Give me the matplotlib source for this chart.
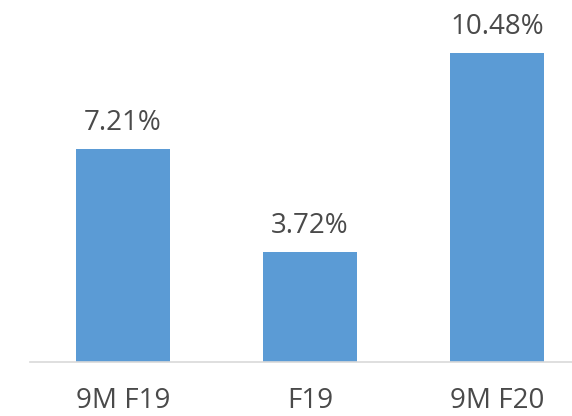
import matplotlib
matplotlib.use("Agg")
import matplotlib.pyplot as plt

categories = ["9M F19", "F19", "9M F20"]
values = [7.21, 3.72, 10.48]
labels = ["7.21%", "3.72%", "10.48%"]

plt.rcParams['font.family'] = ['Open Sans', 'DejaVu Sans']

fig = plt.figure(figsize=(5.72, 4.16), dpi=100)
W, H = 572, 416
left, right = 29.5, 590.5
base = 362
ax = fig.add_axes([left / W, (H - base) / H, (right - left) / W, base / H])
x = range(len(categories))
ax.bar(x, values, width=0.5, color="#5B9BD5", zorder=2)
ax.set_xlim(-0.5, 2.5)
ax.set_ylim(0, 12.27)
for xi, v, lab in zip(x, values, labels):
    ax.text(xi, v + 0.64, lab, ha="center", va="baseline", fontsize=20, color="#4a4a4a")
ax.set_xticks(list(x))
ax.set_xticklabels(categories, fontsize=20, color="#4a4a4a")
ax.tick_params(axis="x", length=0, pad=18)
ax.set_yticks([])
for s in ["top", "left", "right"]:
    ax.spines[s].set_visible(False)
ax.spines["bottom"].set_color("#D9D9D9")
ax.spines["bottom"].set_linewidth(1.2)
ax.patch.set_alpha(0)
fig.savefig("out.png", dpi=100)
